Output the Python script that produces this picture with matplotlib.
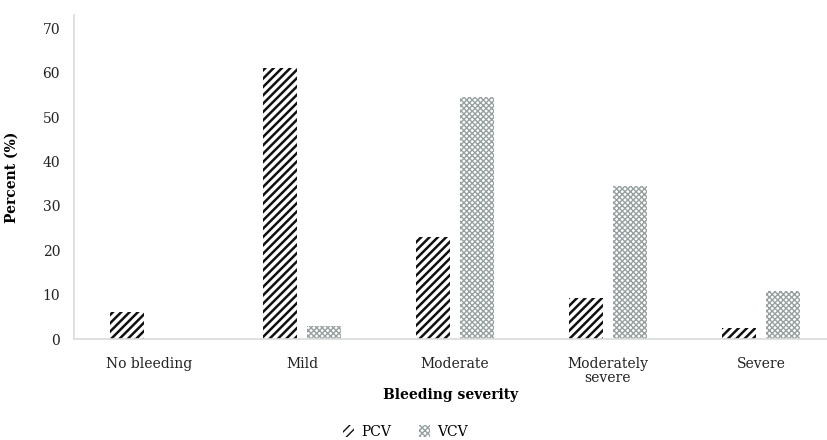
import numpy as np
import matplotlib.pyplot as plt

# bleeding severity, percent of patients per group
categories = ["No bleeding", "Mild", "Moderate", "Moderately\nsevere", "Severe"]
pcv = [6, 61, 23, 9.3, 2.4]
vcv = [0, 3, 54.5, 34.5, 10.8]
yticks = [0, 10, 20, 30, 40, 50, 60, 70]

plt.rcParams['font.family'] = ['DejaVu Serif']

fig = plt.figure(figsize=(8.27, 4.4), dpi=100)
ax = fig.add_axes([74/827, 101/440, 753/827, 324/440])

x = np.arange(len(categories))
w = 0.222
off = 0.141
plt.rcParams['hatch.linewidth'] = 1.8
ax.bar(x - off, pcv, w, color='white', edgecolor='#111111', linewidth=0,
       hatch='////', label='PCV')
plt.rcParams['hatch.linewidth'] = 1.0
ax.bar(x + off, vcv, w, color='white', edgecolor='#97a0a0', linewidth=0,
       hatch='xxxxxx', label='VCV')

ax.set_xlim(-0.49, -0.49 + 753/153)
ax.set_ylim(0, 73)
ax.set_yticks(yticks)
ax.set_xticks(x)
ax.set_xticklabels(categories, fontsize=10, color='#222222', linespacing=1.0)
ax.tick_params(axis='y', labelsize=10, labelcolor='#222222', length=0, pad=10)
ax.tick_params(axis='x', length=0, pad=13)

for s in ['top', 'right']:
    ax.spines[s].set_visible(False)
for s in ['left', 'bottom']:
    ax.spines[s].set_color('#d9dcdc')
    ax.spines[s].set_linewidth(1.2)

ax.set_ylabel('Percent (%)', fontsize=10, fontweight='bold', labelpad=17)
ax.set_xlabel('Bleeding severity', fontsize=10, fontweight='bold', labelpad=2)

fig.legend(loc='center', bbox_to_anchor=(0.49, 8/440), ncol=2,
           frameon=False, fontsize=10, handlelength=0.8, handleheight=0.9,
           columnspacing=2.0, handletextpad=0.5)

fig.savefig('out.png', dpi=100)
